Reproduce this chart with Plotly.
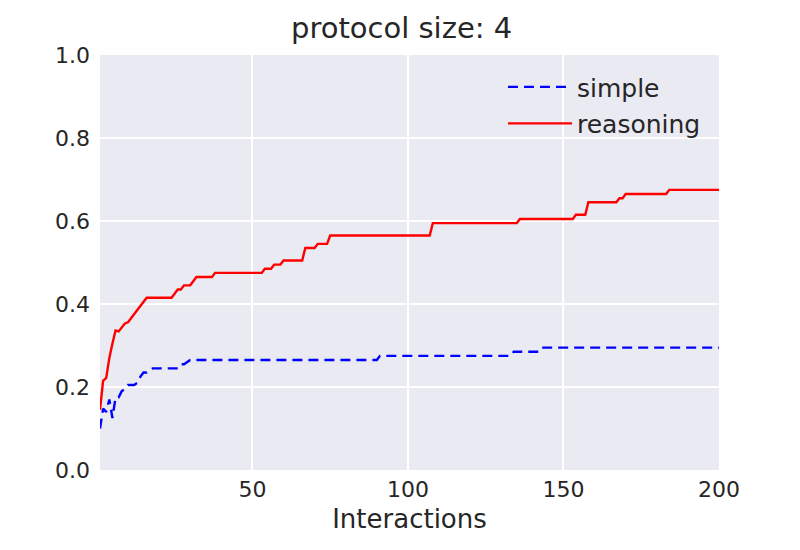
import plotly.graph_objects as go

# Vertices (interaction index, accuracy)
simple_x = [1, 2, 3, 4, 5, 6, 7, 8, 9, 10, 12, 13, 14, 15, 16, 17, 18, 26, 27, 28, 30, 90, 91, 133, 134, 142, 143, 200]
simple_y = [0.100, 0.148, 0.140, 0.170, 0.125, 0.175, 0.175, 0.190, 0.195, 0.205, 0.205, 0.210, 0.225, 0.235, 0.235, 0.240,
            0.245, 0.245, 0.255, 0.255, 0.265, 0.265, 0.275, 0.275, 0.285, 0.285, 0.295, 0.295]

reasoning_x = [1, 2, 3, 4, 5, 6, 7, 8, 9, 10, 16, 24, 25, 26, 27, 28, 30, 31, 32, 37, 38, 53, 54, 56, 57, 59, 60, 66, 67,
               70, 71, 74, 75, 107, 108, 135, 136, 153, 154, 157, 158, 167, 168, 169, 170, 183, 184, 200]
reasoning_y = [0.145, 0.215, 0.222, 0.270, 0.305, 0.336, 0.334, 0.345, 0.353, 0.356, 0.415, 0.415, 0.425, 0.435, 0.435,
               0.445, 0.445, 0.455, 0.465, 0.465, 0.475, 0.475, 0.485, 0.485, 0.495, 0.495, 0.505, 0.505, 0.535,
               0.535, 0.545, 0.545, 0.565, 0.565, 0.595, 0.595, 0.605, 0.605, 0.615, 0.615, 0.645, 0.645, 0.655,
               0.655, 0.665, 0.665, 0.675, 0.675]

x_ticks = [50, 100, 150, 200]
y_ticks = [0.0, 0.2, 0.4, 0.6, 0.8, 1.0]

FONT = "DejaVu Sans"
TXT = "#262626"

fig = go.Figure()
fig.add_trace(go.Scatter(x=simple_x, y=simple_y, mode="lines", name="simple",
                         line=dict(color="#0000FF", width=2.4, dash="10px,6px"), legendgroup="a"))
fig.add_trace(go.Scatter(x=reasoning_x, y=reasoning_y, mode="lines", name="reasoning",
                         line=dict(color="#FF0000", width=2.4), legendgroup="b"))

fig.update_layout(
    width=800, height=550,
    margin=dict(l=92, r=89, t=47, b=88),
    paper_bgcolor="white",
    plot_bgcolor="#EAEAF2",
    font=dict(family=FONT, color=TXT, size=22),
    title=dict(text="protocol size: 4", x=0.492, xref="container", y=0.964, yref="container",
               yanchor="middle", xanchor="center", font=dict(size=29, color=TXT, family=FONT)),
    showlegend=True,
    legend=dict(x=0.651, y=0.978, xanchor="left", yanchor="top", bgcolor="rgba(0,0,0,0)",
                font=dict(size=25, color=TXT, family=FONT), tracegroupgap=1, itemwidth=64),
    xaxis=dict(range=[1, 200], tickvals=x_ticks, showgrid=True, gridcolor="white", gridwidth=1.5,
               zeroline=False, showline=False, ticks="", tickfont=dict(size=22), ticklabelstandoff=4,
               title=dict(text="Interactions", font=dict(size=26), standoff=8)),
    yaxis=dict(range=[0, 1], tickvals=y_ticks, tickformat=".1f", showgrid=True, gridcolor="white", gridwidth=1.5,
               zeroline=False, showline=False, ticks="", tickfont=dict(size=22), ticklabelstandoff=9),
)

fig.write_html("out.html")
